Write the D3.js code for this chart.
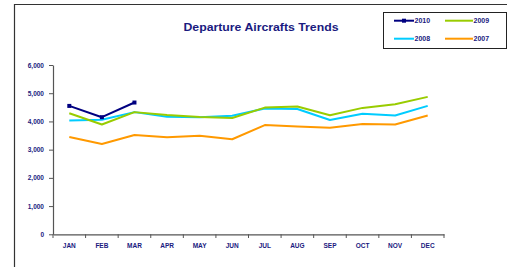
<!DOCTYPE html>
<html><head><meta charset="utf-8">
<script src="https://cdn.jsdelivr.net/npm/d3@7"></script>
<style>html,body{margin:0;padding:0;background:#fff;}svg{display:block;}</style>
</head><body>
<script>
const months = ["JAN","FEB","MAR","APR","MAY","JUN","JUL","AUG","SEP","OCT","NOV","DEC"];
const yTicks = [0,1000,2000,3000,4000,5000,6000];
const s2010 = [4550,4150,4670];
const s2009 = [4290,3890,4330,4230,4160,4120,4490,4530,4220,4480,4610,4870];
const s2008 = [4030,4060,4330,4170,4150,4200,4460,4440,4050,4270,4210,4550];
const s2007 = [3450,3200,3520,3440,3490,3370,3870,3820,3780,3910,3890,4210];
const seriesNames = ["2010","2009","2008","2007"];
const seriesColors = ["#000080","#99cc00","#00ccff","#ff9900"];

const W=507,H=267;
const svg=d3.select("body").append("svg").attr("width",W).attr("height",H);
const navy="#1a1a80";
// outer border
svg.append("path").attr("d",`M14.5,${H} L14.5,4.5 L${W},4.5`).attr("fill","none").attr("stroke","#333").attr("stroke-width",1.2);

const x=d3.scaleBand().domain(months).range([53,444]);
const y=d3.scaleLinear().domain([0,6000]).range([234.3,65]);

// title
svg.append("text").attr("x",261).attr("y",31).attr("text-anchor","middle")
  .attr("font-family","Liberation Sans, Arial, sans-serif").attr("font-weight","bold")
  .attr("font-size",11).attr("fill",navy).attr("textLength",155).attr("lengthAdjust","spacingAndGlyphs")
  .text("Departure Aircrafts Trends");

// axes
const yAxis=svg.append("g").attr("transform","translate(53,0)")
  .call(d3.axisLeft(y).tickValues(yTicks).tickFormat(d3.format(",")).tickSize(4).tickPadding(5).tickSizeOuter(0));
const xAxis=svg.append("g").attr("transform","translate(0,234.3)")
  .call(d3.axisBottom(x).tickSize(0).tickPadding(9).tickSizeOuter(0));
// x tick marks at band boundaries
const bounds=months.map(m=>x(m)).concat([x.range()[1]]);
svg.append("g").selectAll("line").data(bounds).join("line")
  .attr("x1",d=>d).attr("x2",d=>d).attr("y1",234.3).attr("y2",238)
  .attr("stroke","#555").attr("stroke-width",1);
[yAxis,xAxis].forEach(g=>{
  g.selectAll("path.domain").attr("stroke","#555").attr("stroke-width",1.2);
  g.selectAll(".tick line").attr("stroke","#555");
  g.selectAll("text").attr("font-family","Liberation Sans, Arial, sans-serif").attr("font-weight","bold")
   .attr("font-size",6.5).attr("fill",navy);
});

const line=d3.line().x((d,i)=>x(months[i])+x.bandwidth()/2).y(d=>y(d));
const data=[s2007,s2008,s2009,s2010];
const cols=[seriesColors[3],seriesColors[2],seriesColors[1],seriesColors[0]];
data.forEach((s,k)=>{
  svg.append("path").datum(s).attr("d",line).attr("fill","none")
    .attr("stroke",cols[k]).attr("stroke-width",2).attr("stroke-linejoin","round");
});
svg.append("g").selectAll("rect").data(s2010).join("rect")
  .attr("x",(d,i)=>x(months[i])+x.bandwidth()/2-2).attr("y",d=>y(d)-2)
  .attr("width",4).attr("height",4).attr("fill",seriesColors[0]);

// legend
svg.append("rect").attr("x",383.5).attr("y",12.5).attr("width",123).attr("height",36)
  .attr("fill","#fff").attr("stroke","#222").attr("stroke-width",1);
const lpos=[[394,20.7],[445,20.7],[394,38.7],[445,38.7]];
seriesNames.forEach((n,i)=>{
  const [lx,ly]=lpos[i];
  const lw = i%2===0 ? 20 : 28;
  svg.append("line").attr("x1",lx).attr("x2",lx+lw).attr("y1",ly).attr("y2",ly)
    .attr("stroke",seriesColors[i]).attr("stroke-width",2);
  if(i===0) svg.append("rect").attr("x",lx+lw/2-2).attr("y",ly-2).attr("width",4).attr("height",4).attr("fill",seriesColors[0]);
  svg.append("text").attr("x",lx+lw+0.5).attr("y",ly+2.5)
    .attr("font-family","Liberation Sans, Arial, sans-serif").attr("font-weight","bold")
    .attr("font-size",7).attr("fill",navy).text(n);
});
</script>
</body></html>
